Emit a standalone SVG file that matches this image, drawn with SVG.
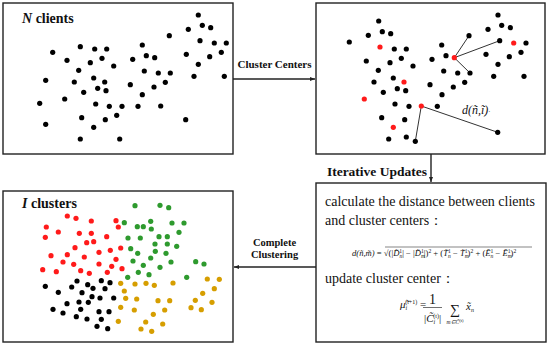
<svg xmlns="http://www.w3.org/2000/svg" width="550" height="346" viewBox="0 0 550 346">
<defs>
<style>
.box{fill:#fff;stroke:#222;stroke-width:1.4}
.con{stroke:#222;stroke-width:1.4;fill:none}
.k{fill:#000}
.r{fill:#ff1a1a}
.g{fill:#2e9a2e}
.o{fill:#d69e00}
.lab{font-family:"Liberation Serif","DejaVu Serif",serif;font-weight:bold;fill:#111}
.body{font-family:"Liberation Serif",serif;font-size:14px;fill:#111}
.math{font-family:"Liberation Serif",serif;font-style:italic;fill:#111}
.thin{stroke:#333;stroke-width:1;fill:none}
</style>
<marker id="ah" viewBox="0 0 10 10" refX="10" refY="5" markerWidth="5" markerHeight="5" orient="auto-start-reverse" markerUnits="userSpaceOnUse">
<path d="M0,1 L10,5 L0,9 z" fill="#222"/>
</marker>
<circle id="d" r="2.6"/>
</defs>
<rect width="550" height="346" fill="#fff"/>

<g id="connectors">
<line class="con" x1="233" y1="79" x2="315" y2="79" marker-end="url(#ah)"/>
<text class="lab" x="274.5" y="68" font-size="11" text-anchor="middle">Cluster Centers</text>
<line class="con" x1="431" y1="154" x2="431" y2="182" marker-end="url(#ah)"/>
<text class="lab" x="427" y="176" font-size="13.5" text-anchor="end">Iterative Updates</text>
<line class="con" x1="316" y1="267" x2="234" y2="267" marker-end="url(#ah)"/>
<text class="lab" x="274.5" y="246" font-size="10.5" text-anchor="middle">Complete</text>
<text class="lab" x="274.5" y="258" font-size="10.5" text-anchor="middle">Clustering</text>
</g>

<g id="clients">
<rect class="box" x="3" y="3" width="230" height="151"/>
<text class="lab" x="22" y="23" font-size="14"><tspan font-style="italic">N</tspan> clients</text>
<g class="k">
<use href="#d" x="198.3" y="15"/><use href="#d" x="188.3" y="29.3"/><use href="#d" x="202.3" y="25.3"/><use href="#d" x="210.7" y="27.7"/>
<use href="#d" x="169.3" y="35.7"/><use href="#d" x="200" y="40.7"/><use href="#d" x="214.3" y="43"/><use href="#d" x="226.3" y="43"/>
<use href="#d" x="52.7" y="52.3"/><use href="#d" x="80.3" y="46.7"/><use href="#d" x="94.7" y="49"/><use href="#d" x="106.7" y="49"/>
<use href="#d" x="142.3" y="45"/><use href="#d" x="186.3" y="54.3"/><use href="#d" x="221.3" y="52.3"/><use href="#d" x="209.7" y="56.7"/>
<use href="#d" x="67" y="60.3"/><use href="#d" x="90.3" y="62.7"/><use href="#d" x="102" y="58.3"/><use href="#d" x="113.7" y="66"/>
<use href="#d" x="132.7" y="59.3"/><use href="#d" x="146.3" y="55.7"/><use href="#d" x="154.7" y="57.7"/><use href="#d" x="198.3" y="64.3"/>
<use href="#d" x="78.7" y="70.3"/><use href="#d" x="144.3" y="71"/><use href="#d" x="158.3" y="73"/><use href="#d" x="170.3" y="73"/>
<use href="#d" x="194" y="76.3"/><use href="#d" x="224.3" y="76.3"/><use href="#d" x="45.7" y="80.3"/><use href="#d" x="74.3" y="82"/>
<use href="#d" x="93.7" y="78"/><use href="#d" x="104.7" y="82"/><use href="#d" x="130.3" y="84.7"/><use href="#d" x="154" y="87"/>
<use href="#d" x="165.3" y="82.3"/><use href="#d" x="83.7" y="92.3"/><use href="#d" x="97.7" y="88.3"/><use href="#d" x="106" y="90.7"/>
<use href="#d" x="142.3" y="94.7"/><use href="#d" x="64.7" y="99"/><use href="#d" x="39.7" y="103.3"/><use href="#d" x="95.7" y="104"/>
<use href="#d" x="109.3" y="106.3"/><use href="#d" x="122" y="106.3"/><use href="#d" x="138" y="106.3"/><use href="#d" x="160.7" y="106"/>
<use href="#d" x="185.7" y="119.7"/><use href="#d" x="81.7" y="117.7"/><use href="#d" x="105.3" y="119.7"/><use href="#d" x="116.7" y="115.3"/>
<use href="#d" x="45.7" y="124.3"/><use href="#d" x="93.7" y="127.3"/><use href="#d" x="80.3" y="139"/><use href="#d" x="119.7" y="139"/>
</g>
</g>

<g id="centers">
<rect class="box" x="316" y="3" width="229" height="151"/>
<g class="thin">
<line x1="454.3" y1="57.7" x2="469" y2="35.7"/>
<line x1="454.3" y1="57.7" x2="499.7" y2="40.7"/>
<line x1="454.3" y1="57.7" x2="470" y2="73"/>
<line x1="421.3" y1="106" x2="415.3" y2="141.3"/>
<line x1="421.3" y1="106" x2="497.7" y2="132.3"/>
</g>
<g class="k">
<use href="#d" x="378.7" y="21"/><use href="#d" x="368.3" y="35.3"/><use href="#d" x="382.3" y="31.7"/><use href="#d" x="390.7" y="33.7"/>
<use href="#d" x="349.3" y="42"/><use href="#d" x="394.3" y="49"/><use href="#d" x="406.3" y="49"/><use href="#d" x="366.3" y="61"/>
<use href="#d" x="390" y="62.7"/><use href="#d" x="401.3" y="58.3"/><use href="#d" x="413" y="66"/><use href="#d" x="378.3" y="70.3"/>
<use href="#d" x="374" y="82"/><use href="#d" x="393.3" y="78"/><use href="#d" x="397.3" y="88.7"/><use href="#d" x="405.7" y="90.7"/>
<use href="#d" x="383.3" y="92.3"/><use href="#d" x="395" y="104"/><use href="#d" x="409" y="106.3"/><use href="#d" x="381.7" y="117.7"/>
<use href="#d" x="404.7" y="119.7"/><use href="#d" x="388.7" y="139"/><use href="#d" x="406.3" y="137"/><use href="#d" x="415.3" y="141.3"/>
<use href="#d" x="441.7" y="45"/><use href="#d" x="432" y="59.3"/><use href="#d" x="446" y="55.7"/><use href="#d" x="443.7" y="71"/>
<use href="#d" x="457.7" y="73"/><use href="#d" x="470" y="73"/><use href="#d" x="430" y="84.7"/><use href="#d" x="453.3" y="87"/>
<use href="#d" x="464.7" y="82.3"/><use href="#d" x="442" y="94.7"/><use href="#d" x="437.3" y="106.3"/><use href="#d" x="469" y="35.7"/>
<use href="#d" x="498" y="15"/><use href="#d" x="488" y="29.3"/><use href="#d" x="501.7" y="25.3"/><use href="#d" x="510.3" y="27.7"/>
<use href="#d" x="499.7" y="40.7"/><use href="#d" x="526" y="43"/><use href="#d" x="486" y="54.3"/><use href="#d" x="521" y="52.3"/>
<use href="#d" x="509.3" y="56.7"/><use href="#d" x="498" y="64.3"/><use href="#d" x="493.7" y="76.3"/><use href="#d" x="524" y="76.3"/>
<use href="#d" x="497.7" y="132.3"/>
</g>
<g class="r">
<use href="#d" x="380" y="47"/><use href="#d" x="404" y="82"/><use href="#d" x="364.3" y="99"/><use href="#d" x="393.3" y="127.3"/>
<use href="#d" x="421.3" y="106"/><use href="#d" x="454.3" y="57.7"/><use href="#d" x="513.7" y="43"/>
</g>
<text class="math" x="462" y="114" font-size="12">d(ñ,ĩ)<tspan font-style="normal" font-size="7">·</tspan></text>
</g>

<g id="clusters">
<rect class="box" x="3" y="191" width="230" height="151"/>
<text class="lab" x="22" y="208" font-size="14"><tspan font-style="italic">I</tspan>  clusters</text>
<g class="r">
<use href="#d" x="67.3" y="216"/><use href="#d" x="76" y="218.3"/><use href="#d" x="91.3" y="221"/><use href="#d" x="116" y="220.7"/>
<use href="#d" x="118.3" y="227"/><use href="#d" x="46.3" y="227"/><use href="#d" x="58.3" y="232"/><use href="#d" x="45.3" y="237.3"/>
<use href="#d" x="79.3" y="233.3"/><use href="#d" x="91.3" y="233.3"/><use href="#d" x="106.7" y="236.7"/><use href="#d" x="86.7" y="242.7"/>
<use href="#d" x="93.7" y="241.7"/><use href="#d" x="75" y="247.7"/><use href="#d" x="120.7" y="248"/><use href="#d" x="99" y="252.3"/>
<use href="#d" x="110.3" y="250.3"/><use href="#d" x="51" y="255.7"/><use href="#d" x="67.3" y="254.7"/><use href="#d" x="84.3" y="257"/>
<use href="#d" x="63" y="262"/><use href="#d" x="73.7" y="264.3"/><use href="#d" x="99" y="264"/><use href="#d" x="116" y="259.3"/>
<use href="#d" x="111.7" y="266.3"/><use href="#d" x="42.7" y="269.7"/><use href="#d" x="56.3" y="271.7"/><use href="#d" x="80.7" y="270.7"/>
<use href="#d" x="89.3" y="273.3"/><use href="#d" x="107.3" y="272.3"/><use href="#d" x="122" y="268.7"/>
</g>
<g class="g">
<use href="#d" x="135" y="205.7"/><use href="#d" x="160" y="205.3"/><use href="#d" x="168.7" y="207.7"/><use href="#d" x="124.3" y="222.7"/>
<use href="#d" x="137.3" y="226.7"/><use href="#d" x="143.3" y="226.7"/><use href="#d" x="150.7" y="221.3"/><use href="#d" x="151.3" y="229"/>
<use href="#d" x="172" y="223"/><use href="#d" x="184" y="223"/><use href="#d" x="179" y="232.3"/><use href="#d" x="128" y="238"/>
<use href="#d" x="140.3" y="238"/><use href="#d" x="159" y="236.7"/><use href="#d" x="167.3" y="236.7"/><use href="#d" x="155" y="244"/>
<use href="#d" x="167.3" y="244"/><use href="#d" x="176.7" y="246.3"/><use href="#d" x="130.7" y="248.7"/><use href="#d" x="137.7" y="253.3"/>
<use href="#d" x="155.3" y="251.3"/><use href="#d" x="166" y="253.3"/><use href="#d" x="150.7" y="258"/><use href="#d" x="133" y="261"/>
<use href="#d" x="143.3" y="265.3"/><use href="#d" x="171" y="262"/><use href="#d" x="160" y="267.3"/><use href="#d" x="138.3" y="272.3"/>
<use href="#d" x="149" y="274.7"/><use href="#d" x="127.7" y="277.3"/><use href="#d" x="186.7" y="277.3"/><use href="#d" x="195.7" y="261.7"/>
<use href="#d" x="204" y="264"/>
</g>
<g class="k">
<use href="#d" x="45.3" y="286.3"/><use href="#d" x="58.3" y="292.3"/><use href="#d" x="71.7" y="287"/><use href="#d" x="77" y="281"/>
<use href="#d" x="87.7" y="284.7"/><use href="#d" x="93" y="288.3"/><use href="#d" x="101.3" y="280.7"/><use href="#d" x="110" y="282.7"/>
<use href="#d" x="105" y="288.7"/><use href="#d" x="82" y="292.7"/><use href="#d" x="92" y="296.7"/><use href="#d" x="100" y="298"/>
<use href="#d" x="113.7" y="298"/><use href="#d" x="67" y="303.7"/><use href="#d" x="79" y="302"/><use href="#d" x="88.3" y="302.3"/>
<use href="#d" x="53" y="309.3"/><use href="#d" x="63" y="313"/><use href="#d" x="80.7" y="309.3"/><use href="#d" x="99" y="311.7"/>
<use href="#d" x="109" y="311.7"/><use href="#d" x="76.3" y="316.7"/><use href="#d" x="87" y="319"/><use href="#d" x="101.3" y="319.3"/>
<use href="#d" x="97" y="326.3"/><use href="#d" x="107.7" y="328.7"/>
</g>
<g class="o">
<use href="#d" x="120.7" y="283.3"/><use href="#d" x="124.3" y="291"/><use href="#d" x="135" y="284"/><use href="#d" x="146" y="283.3"/>
<use href="#d" x="154.3" y="285.3"/><use href="#d" x="173" y="283"/><use href="#d" x="207.3" y="279"/><use href="#d" x="219.3" y="279.3"/>
<use href="#d" x="214.3" y="288.7"/><use href="#d" x="202.7" y="293.3"/><use href="#d" x="125.7" y="298.3"/><use href="#d" x="136.7" y="299"/>
<use href="#d" x="158" y="300.7"/><use href="#d" x="169.7" y="300.7"/><use href="#d" x="195.3" y="300.3"/><use href="#d" x="212" y="302.3"/>
<use href="#d" x="191" y="307.7"/><use href="#d" x="201.3" y="309.7"/><use href="#d" x="120.7" y="307.3"/><use href="#d" x="134.3" y="310"/>
<use href="#d" x="164.7" y="310"/><use href="#d" x="153.3" y="314.3"/><use href="#d" x="118.3" y="321.3"/><use href="#d" x="145.7" y="322"/>
<use href="#d" x="162.7" y="324"/><use href="#d" x="141" y="329"/><use href="#d" x="151.7" y="331.3"/>
</g>
</g>

<g id="updates">
<rect class="box" x="316" y="183" width="230" height="159"/>
<text class="body" x="325" y="206">calculate the distance between clients</text>
<text class="body" x="325" y="225">and cluster centers：</text>
<text class="math" x="352" y="256" font-size="8.6">d(ñ,m̃)<tspan font-style="normal"> = √</tspan><tspan font-style="normal">(|</tspan>D̃<tspan dy="1.7" font-size="5.6">n</tspan><tspan dy="-4.5" dx="-2.8" font-size="5.6" font-style="normal">1</tspan><tspan dy="2.8" font-style="normal">| − |</tspan>D̃<tspan dy="1.7" font-size="5.6">m</tspan><tspan dy="-4.5" dx="-4" font-size="5.6" font-style="normal">1</tspan><tspan dy="2.8" font-style="normal">|)</tspan><tspan dy="-2.8" font-size="5.6" font-style="normal">2</tspan><tspan dy="2.8" font-style="normal"> + (</tspan>T̃<tspan dy="1.7" font-size="5.6">n</tspan><tspan dy="-4.5" dx="-2.8" font-size="5.6" font-style="normal">1</tspan><tspan dy="2.8" font-style="normal"> − </tspan>T̃<tspan dy="1.7" font-size="5.6">m</tspan><tspan dy="-4.5" dx="-4" font-size="5.6" font-style="normal">1</tspan><tspan dy="2.8" font-style="normal">)</tspan><tspan dy="-2.8" font-size="5.6" font-style="normal">2</tspan><tspan dy="2.8" font-style="normal"> + (</tspan>Ẽ<tspan dy="1.7" font-size="5.6">n</tspan><tspan dy="-4.5" dx="-2.8" font-size="5.6" font-style="normal">1</tspan><tspan dy="2.8" font-style="normal"> − </tspan>Ẽ<tspan dy="1.7" font-size="5.6">m</tspan><tspan dy="-4.5" dx="-4" font-size="5.6" font-style="normal">1</tspan><tspan dy="2.8" font-style="normal">)</tspan><tspan dy="-2.8" font-size="5.6" font-style="normal">2</tspan></text>
<line x1="385" y1="247" x2="532" y2="247" stroke="#333" stroke-width="0.6"/>
<text class="body" x="325" y="283">update cluster center：</text>
<text class="math" x="400" y="308" font-size="11">μ̃<tspan dy="1.5" font-size="6">i</tspan><tspan dy="-6" dx="-2" font-size="6" font-style="normal">(t+1)</tspan><tspan dy="4.5" font-style="normal"> =</tspan></text>
<text class="body" x="432.5" y="304" font-size="11" text-anchor="middle">1</text>
<line x1="423" y1="307.5" x2="442" y2="307.5" stroke="#333" stroke-width="0.7"/>
<text class="math" x="424" y="322" font-size="11"><tspan font-style="normal">|</tspan>C̃<tspan dy="1.5" font-size="6">i</tspan><tspan dy="-6" dx="-2" font-size="6" font-style="normal">(t)</tspan><tspan dy="4.5" font-style="normal">|</tspan></text>
<text class="body" x="455" y="314" font-size="16" text-anchor="middle">∑</text>
<text class="math" x="455" y="324" font-size="5.5" text-anchor="middle">m∈C̃<tspan dy="-2" font-size="4.5" font-style="normal">(t)</tspan></text>
<text class="math" x="466" y="310" font-size="11">x̃<tspan dy="1.5" font-size="6">n</tspan></text>
</g>
</svg>
